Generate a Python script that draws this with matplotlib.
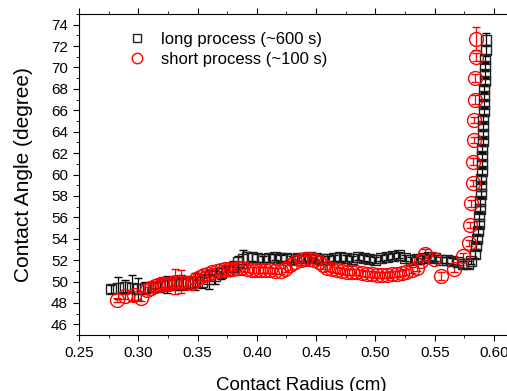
import matplotlib
matplotlib.use('Agg')
import matplotlib.pyplot as plt
from matplotlib.lines import Line2D
from matplotlib.ticker import MultipleLocator

plt.rcParams['font.family'] = ['Liberation Sans', 'DejaVu Sans']

# long process (~600 s): contact radius (cm), contact angle (degree), error
long_r = [0.277, 0.283, 0.289, 0.295, 0.300, 0.306, 0.312, 0.318, 0.324, 0.330,
          0.336, 0.342, 0.348, 0.354, 0.360, 0.365, 0.370, 0.375, 0.380, 0.384,
          0.388, 0.392, 0.396, 0.400, 0.405, 0.410, 0.415, 0.420, 0.425, 0.430,
          0.435, 0.440, 0.445, 0.450, 0.455, 0.460, 0.465, 0.470, 0.475, 0.480,
          0.485, 0.490, 0.495, 0.500, 0.505, 0.510, 0.515, 0.520, 0.525, 0.530,
          0.535, 0.540, 0.545, 0.550, 0.555, 0.560, 0.565, 0.570, 0.574, 0.578,
          0.581, 0.5840, 0.5850, 0.5858, 0.5865, 0.5871, 0.5876, 0.5880, 0.5884,
          0.5887, 0.5890, 0.5893, 0.5895, 0.5898, 0.5900, 0.5902, 0.5905, 0.5907,
          0.5909, 0.5911, 0.5913, 0.5915, 0.5917, 0.5919, 0.5921, 0.5923, 0.5925,
          0.5927, 0.5929, 0.5930]
long_v = [49.3, 49.4, 49.5, 49.4, 49.3, 49.4, 49.5, 49.6, 49.7, 49.8,
          49.9, 49.9, 50.0, 50.0, 50.2, 50.5, 50.8, 51.0, 51.4, 51.8,
          52.1, 52.3, 52.3, 52.2, 52.1, 52.2, 52.3, 52.2, 52.2, 52.1,
          52.2, 52.2, 52.3, 52.2, 52.1, 52.1, 52.2, 52.3, 52.2, 52.1,
          52.3, 52.2, 52.1, 52.0, 52.2, 52.3, 52.4, 52.5, 52.2, 52.0,
          52.1, 52.2, 52.3, 52.2, 52.0, 52.0, 51.9, 51.8, 51.6, 51.6,
          51.9, 52.6, 53.3, 54.0, 54.7, 55.4, 56.1, 56.8, 57.5,
          58.2, 58.9, 59.6, 60.3, 61.0, 61.7, 62.4, 63.1, 63.8,
          64.5, 65.2, 65.9, 66.6, 67.3, 68.0, 68.7, 69.4, 70.1,
          70.8, 71.6, 72.6]
long_err = [0.4, 1.0, 0.6, 1.2, 1.0, 0.6, 0.5, 0.6, 0.8, 0.6,
            0.7, 0.6, 0.8, 0.6, 0.9, 0.7, 0.6, 0.5, 0.5, 0.6,
            0.8, 0.5, 0.4, 0.4, 0.3, 0.4, 0.3, 0.3, 0.4, 0.3,
            0.3, 0.3, 0.3, 0.3, 0.3, 0.3, 0.3, 0.4, 0.3, 0.3,
            0.3, 0.3, 0.3, 0.3, 0.3, 0.3, 0.3, 0.3, 0.3, 0.3,
            0.3, 0.3, 0.3, 0.3, 0.3, 0.3, 0.3, 0.3, 0.3, 0.3,
            0.3, 0.4, 0.4, 0.4, 0.4, 0.4, 0.4, 0.4, 0.4,
            0.4, 0.4, 0.4, 0.4, 0.4, 0.4, 0.4, 0.4, 0.4,
            0.4, 0.4, 0.4, 0.4, 0.4, 0.4, 0.4, 0.4, 0.4,
            0.4, 0.5, 0.6]

# short process (~100 s)
short_r = [0.2818, 0.2889, 0.2964, 0.3023, 0.3077, 0.3110, 0.3140, 0.3170, 0.3197, 0.3225,
           0.3250, 0.3280, 0.3310, 0.3340, 0.3364, 0.3400, 0.3449, 0.3485, 0.3520, 0.3555,
           0.3590, 0.3625, 0.3660, 0.3695, 0.3730, 0.3765, 0.3800, 0.3835, 0.3870, 0.3915,
           0.3960, 0.3995, 0.4030, 0.4070, 0.4110, 0.4155, 0.4200, 0.4240, 0.4280, 0.4325,
           0.4370, 0.4410, 0.4450, 0.4485, 0.4520, 0.4555, 0.4590, 0.4635, 0.4680, 0.4720,
           0.4760, 0.4800, 0.4840, 0.4885, 0.4930, 0.4970, 0.5010, 0.5055, 0.5100, 0.5140,
           0.5180, 0.5220, 0.5260, 0.5305, 0.5350, 0.5385, 0.5420, 0.5490, 0.5550, 0.5660,
           0.5740, 0.5790, 0.5800, 0.5810, 0.5820, 0.5820, 0.5830, 0.5830, 0.5840, 0.5840,
           0.5850, 0.5850]
short_v = [48.3, 48.6, 48.7, 48.5, 49.2, 49.4, 49.6, 49.7, 49.8, 49.8,
           49.8, 49.9, 50.0, 50.0, 50.0, 49.9, 49.9, 50.2, 50.4, 50.6,
           50.7, 50.9, 51.0, 51.1, 51.2, 51.2, 51.2, 51.3, 51.3, 51.2,
           51.1, 51.1, 51.1, 51.1, 51.1, 51.0, 51.0, 51.2, 51.5, 51.8,
           52.0, 52.1, 52.1, 52.0, 51.8, 51.5, 51.3, 51.2, 51.1, 51.0,
           50.9, 50.9, 50.9, 50.8, 50.7, 50.7, 50.6, 50.6, 50.6, 50.7,
           50.7, 50.8, 50.9, 51.1, 51.3, 51.9, 52.6, 52.1, 50.5, 51.2,
           52.4, 53.6, 55.3, 57.3, 59.2, 61.2, 63.2, 65.1, 67.0, 69.0,
           71.0, 72.7]
short_err = [0.2, 0.2, 0.4, 0.3, 0.3, 0.3, 0.3, 0.3, 0.6, 0.3,
             0.4, 0.3, 1.2, 0.4, 1.1, 0.3, 0.5, 0.3, 0.3, 0.3,
             0.3, 0.3, 0.3, 0.3, 0.3, 0.3, 0.3, 0.3, 0.3, 0.3,
             0.3, 0.3, 0.3, 0.3, 0.3, 0.3, 0.3, 0.3, 0.4, 0.3,
             0.5, 0.3, 0.4, 0.3, 0.3, 0.3, 0.3, 0.3, 0.3, 0.3,
             0.3, 0.3, 0.3, 0.3, 0.3, 0.3, 0.3, 0.3, 0.3, 0.3,
             0.3, 0.3, 0.3, 0.3, 0.3, 0.3, 0.4, 0.3, 0.4, 0.3,
             0.3, 0.3, 0.3, 0.3, 0.3, 0.3, 0.3, 0.3, 0.4, 0.4,
             0.4, 1.1]

fig = plt.figure(figsize=(5.07, 3.91), dpi=100)
ax = fig.add_axes([0.1558, 0.1432, 0.877, 0.821])

ax.errorbar(long_r, long_v, yerr=long_err, fmt='s', ms=7.5, mfc='none', mec='#222222',
            mew=1.0, ecolor='black', elinewidth=0.9, capsize=3, capthick=0.9)
ax.errorbar(short_r, short_v, yerr=short_err, fmt='o', ms=10, mfc='none', mec='red',
            mew=1.0, ecolor='red', elinewidth=0.9, capsize=3, capthick=0.9)

ax.set_xlim(0.25, 0.625)
ax.set_ylim(45, 75)
ax.set_xticks([0.25, 0.30, 0.35, 0.40, 0.45, 0.50, 0.55, 0.60])
ax.xaxis.set_minor_locator(MultipleLocator(0.025))
ax.set_yticks(range(46, 75, 2))
ax.yaxis.set_minor_locator(MultipleLocator(1))
ax.tick_params(which='both', direction='out', top=True, labelsize=11)
ax.tick_params(which='major', length=4.5)
ax.tick_params(which='minor', length=2.5)
ax.xaxis.set_major_formatter(plt.FormatStrFormatter('%.2f'))

ax.set_xlabel('Contact Radius (cm)', fontsize=13.5, labelpad=12)
ax.set_ylabel('Contact Angle (degree)', fontsize=15, labelpad=13)

handles = [Line2D([], [], ls='none', marker='s', ms=6, mfc='none', mec='#222222', mew=1.0),
           Line2D([], [], ls='none', marker='o', ms=7.5, mfc='none', mec='red', mew=1.0)]
labels = ['long process (~600 s)', 'short process (~100 s)']
ax.legend(handles, labels, loc='upper left', bbox_to_anchor=(0.075, 0.99), frameon=False,
          fontsize=12, handletextpad=0.8, labelspacing=0.3, handlelength=1.2)

fig.savefig('out.png', dpi=100)
